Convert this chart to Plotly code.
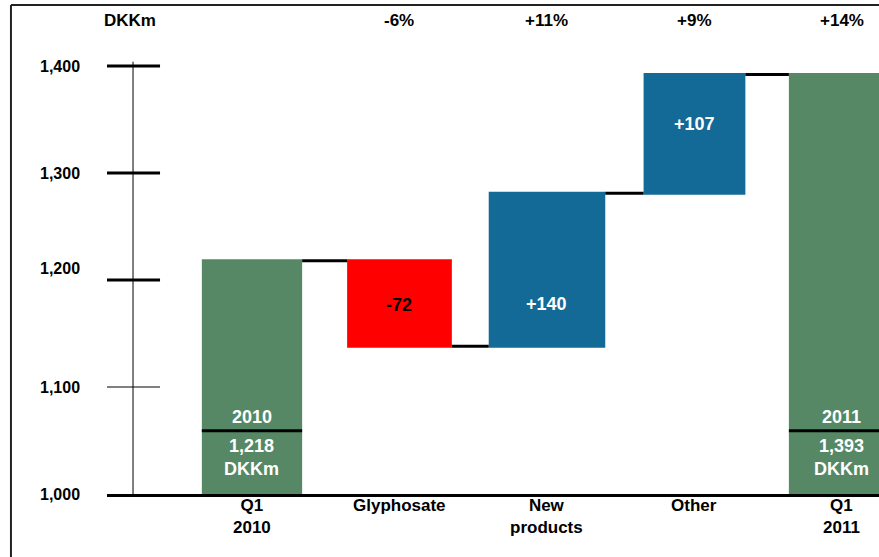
import plotly.graph_objects as go

# ---------------- data ----------------
categories = ["Q1<br>2010", "Glyphosate", "New<br>products", "Other", "Q1<br>2011"]
measures = ["absolute", "relative", "relative", "relative", "total"]
# bar steps as drawn in the chart (DKKm)
bar_steps = [1218, -80, 143, 111, 0]
step_labels = ["", "-72", "+140", "+107", ""]
pct_labels = ["", "-6%", "+11%", "+9%", "+14%"]
total_years = ["2010", "", "", "", "2011"]
total_amounts = ["1,218", "", "", "", "1,393"]
y_tick_values = [1000, 1100, 1200, 1300, 1400]
y_tick_text = ["1,000", "1,100", "1,200", "1,300", "1,400"]

# ---------------- styles ----------------
GREEN = "#568865"
BLUE = "#136A96"
RED = "#FF0000"
FONT = "Liberation Sans, Arial, sans-serif"
bar_widths = [0.68, 0.71, 0.79, 0.69, 0.72]
step_label_levels = [None, 1177, 1178, 1346, None]
y_label_shift = [0, 0, 12, 0, 0]
thick_ticks = [1400, 1300, 1200]
thin_ticks = [1100]

x_pos = list(range(len(categories)))

fig = go.Figure()
fig.add_trace(go.Waterfall(
    x=x_pos,
    y=bar_steps,
    measure=measures,
    width=bar_widths,
    increasing=dict(marker=dict(color=BLUE, line=dict(width=0))),
    decreasing=dict(marker=dict(color=RED, line=dict(width=0))),
    totals=dict(marker=dict(color=GREEN, line=dict(width=0))),
    connector=dict(mode="between", line=dict(color="black", width=3)),
    textposition="none",
    hoverinfo="skip",
))

annotations = []
shapes = []

# step labels inside the change bars
for i, (lab, lvl) in enumerate(zip(step_labels, step_label_levels)):
    if lab:
        annotations.append(dict(
            x=i, y=lvl, xref="x", yref="y", text=lab, showarrow=False,
            font=dict(family=FONT, size=18, weight="bold",
                      color="black" if bar_steps[i] < 0 else "white")))

# total bar labels
for i, (yr, amt) in enumerate(zip(total_years, total_amounts)):
    if yr:
        annotations.append(dict(x=i, y=1072, xref="x", yref="y", text=yr,
                                showarrow=False,
                                font=dict(family=FONT, size=18, weight="bold", color="white")))
        annotations.append(dict(x=i, y=1034, xref="x", yref="y",
                                text=amt + "<br>DKKm", showarrow=False,
                                font=dict(family=FONT, size=18, weight="bold", color="white")))
        shapes.append(dict(type="line", xref="x", yref="y",
                           x0=i - bar_widths[i] / 2, x1=i + bar_widths[i] / 2,
                           y0=1059, y1=1059, line=dict(color="black", width=3)))

# category labels under the axis
for i, c in enumerate(categories):
    annotations.append(dict(x=i, y=0.0, xref="x", yref="paper", text=c,
                            yanchor="top", showarrow=False,
                            font=dict(family=FONT, size=17, weight="bold", color="black")))

# percentage labels on top
for i, p in enumerate(pct_labels):
    if p:
        annotations.append(dict(x=i, y=0.9595, xref="x", yref="paper", text=p,
                                yanchor="middle", showarrow=False,
                                font=dict(family=FONT, size=17, weight="bold", color="black")))

# unit label
annotations.append(dict(x=-0.007, y=0.9575, xref="paper", yref="paper", text="DKKm",
                        yanchor="middle", showarrow=False,
                        font=dict(family=FONT, size=17, weight="bold", color="black")))

# y tick labels
for v, t, s in zip(y_tick_values, y_tick_text, y_label_shift):
    annotations.append(dict(x=-0.032, y=v, xref="paper", yref="y", text=t,
                            xanchor="right", yanchor="middle", yshift=s, showarrow=False,
                            font=dict(family=FONT, size=16, weight="bold", color="black")))

# vertical axis line and tick marks
shapes.append(dict(type="line", xref="paper", yref="y", x0=0.0337, x1=0.0337,
                   y0=1000, y1=1404, line=dict(color="black", width=1)))
for v in thick_ticks:
    shapes.append(dict(type="line", xref="paper", yref="y", x0=0, x1=0.0687,
                       y0=v, y1=v, line=dict(color="black", width=3)))
for v in thin_ticks:
    shapes.append(dict(type="line", xref="paper", yref="y", x0=0, x1=0.0687,
                       y0=v, y1=v, line=dict(color="black", width=1)))

# frame (top and left)
shapes.append(dict(type="line", xref="paper", yref="paper", x0=-0.1244, x1=1.05,
                   y0=0.9899, y1=0.9899, line=dict(color="#222", width=2)))
shapes.append(dict(type="line", xref="paper", yref="paper", x0=-0.1244, x1=-0.1244,
                   y0=-0.2, y1=0.9899, line=dict(color="#222", width=2)))

fig.update_layout(
    width=879, height=557,
    margin=dict(l=107, r=0, t=0, b=63),
    paper_bgcolor="white", plot_bgcolor="white",
    showlegend=False,
    font=dict(family=FONT, size=17, color="black", weight="bold"),
    annotations=annotations,
    shapes=shapes,
    xaxis=dict(range=[-0.983, 4.251], tickvals=x_pos, showticklabels=False,
               showgrid=False, zeroline=False, showline=True, linecolor="black",
               linewidth=3, ticks="", fixedrange=True),
    yaxis=dict(range=[1000, 1461.7], showgrid=False, zeroline=False, showline=False,
               showticklabels=False, ticks="", fixedrange=True),
)

fig.write_html("out.html")
